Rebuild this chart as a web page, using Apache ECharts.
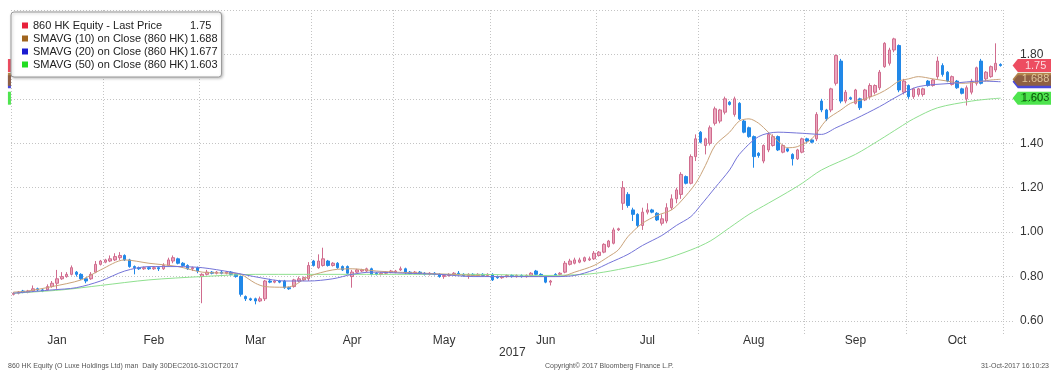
<!DOCTYPE html>
<html><head><meta charset="utf-8">
<script src="https://cdn.jsdelivr.net/npm/echarts@6/dist/echarts.min.js"></script>
<style>html,body{margin:0;padding:0;background:#fff}#c{width:1051px;height:372px}</style>
</head><body><div id="c"></div>
<script>
// ---- data ----
const monthNames = ['Jan','Feb','Mar','Apr','May','Jun','Jul','Aug','Sep','Oct'];
const monthDays = [19,20,23,17,20,22,21,22,21,20];
const yearLabel = '2017';
const seriesNames = ['860 HK Equity - Last Price','SMAVG (10) on Close (860 HK)','SMAVG (20) on Close (860 HK)','SMAVG (50) on Close (860 HK)'];
const lastValues = ['1.75','1.688','1.677','1.603'];
const tagValues = [1.75,1.688,1.677,1.603];
// [open, close, low, high]
const candles = [
// Jan
[.72,.725,.715,.73],[.725,.73,.72,.735],[.735,.73,.725,.74],[.73,.735,.725,.74],[.735,.745,.73,.76],
[.745,.74,.735,.75],[.74,.735,.73,.745],[.74,.755,.735,.765],[.755,.77,.75,.78],[.77,.79,.745,.83],
[.79,.80,.785,.82],[.80,.81,.795,.82],[.81,.84,.805,.85],[.82,.81,.80,.825],[.81,.79,.785,.815],
[.79,.78,.77,.795],[.79,.81,.785,.82],[.82,.855,.815,.87],[.855,.87,.85,.875],
// Feb
[.865,.875,.86,.88],[.87,.88,.865,.895],[.875,.89,.87,.905],[.885,.895,.875,.91],[.895,.875,.87,.90],
[.875,.845,.84,.88],[.845,.84,.81,.85],[.84,.835,.83,.845],[.835,.84,.83,.845],[.84,.835,.83,.845],
[.835,.84,.83,.845],[.84,.835,.825,.845],[.835,.85,.83,.86],[.85,.875,.845,.885],[.87,.885,.86,.895],
[.88,.86,.855,.885],[.86,.85,.845,.865],[.85,.835,.83,.855],[.835,.84,.825,.845],[.84,.825,.815,.845],
// Mar
[.80,.81,.68,.815],[.81,.82,.805,.83],[.82,.815,.81,.825],[.815,.82,.81,.825],[.82,.815,.81,.825],
[.815,.82,.81,.825],[.82,.81,.805,.825],[.81,.80,.795,.815],[.80,.72,.71,.805],[.71,.70,.69,.715],
[.70,.695,.69,.705],[.70,.69,.675,.705],[.69,.70,.685,.71],[.70,.78,.69,.785],[.78,.775,.77,.79],
[.775,.78,.77,.785],[.78,.775,.77,.785],[.78,.75,.745,.785],[.75,.745,.74,.755],[.755,.785,.75,.79],
[.78,.79,.775,.80],[.785,.795,.78,.80],[.79,.85,.78,.865],
// Apr
[.87,.85,.845,.875],[.84,.87,.835,.90],[.85,.88,.845,.93],[.87,.85,.845,.875],[.85,.86,.845,.865],
[.86,.84,.835,.865],[.845,.83,.825,.85],[.845,.815,.81,.85],[.80,.82,.75,.83],[.82,.83,.815,.835],
[.825,.83,.82,.835],[.825,.835,.82,.84],[.835,.81,.805,.84],[.815,.81,.805,.82],[.81,.815,.805,.82],
[.815,.82,.81,.825],[.82,.825,.815,.83],
// May
[.82,.825,.815,.83],[.83,.835,.825,.845],[.835,.82,.81,.84],[.82,.815,.81,.825],[.815,.82,.81,.825],
[.82,.815,.81,.825],[.815,.81,.805,.82],[.81,.815,.805,.82],[.815,.81,.805,.82],[.81,.80,.795,.815],
[.80,.805,.79,.81],[.805,.81,.80,.815],[.81,.815,.805,.82],[.815,.81,.805,.825],[.81,.805,.80,.815],
[.805,.81,.79,.815],[.81,.805,.80,.815],[.805,.81,.80,.815],[.81,.805,.80,.815],[.805,.81,.80,.815],
// Jun
[.81,.785,.78,.815],[.80,.795,.79,.805],[.795,.80,.79,.805],[.80,.805,.795,.81],[.805,.80,.795,.81],
[.80,.805,.795,.81],[.805,.80,.795,.81],[.80,.805,.795,.81],[.805,.815,.80,.82],[.825,.81,.805,.83],
[.81,.805,.80,.815],[.80,.775,.77,.805],[.775,.78,.76,.785],[.81,.805,.80,.815],[.81,.815,.805,.82],
[.82,.86,.815,.87],[.855,.87,.85,.88],[.86,.875,.855,.885],[.865,.875,.86,.885],[.87,.885,.865,.89],
[.875,.88,.87,.89],[.88,.905,.875,.915],
// Jul
[.895,.91,.89,.915],[.91,.945,.905,.95],[.935,.96,.93,.965],[.95,1.01,.945,1.02],[1.01,1.015,1.005,1.02],
[1.13,1.20,1.10,1.23],[1.17,1.12,1.11,1.18],[1.10,1.08,1.05,1.11],[1.08,1.03,1.02,1.085],[1.03,1.09,1.01,1.11],
[1.09,1.10,1.08,1.13],[1.10,1.09,1.085,1.105],[1.085,1.055,1.05,1.09],[1.04,1.06,1.03,1.08],[1.05,1.11,1.04,1.13],
[1.11,1.15,1.10,1.17],[1.15,1.19,1.13,1.20],[1.17,1.26,1.15,1.27],[1.25,1.22,1.215,1.255],[1.22,1.34,1.215,1.35],
[1.34,1.42,1.32,1.44],
// Aug
[1.45,1.405,1.40,1.455],[1.39,1.42,1.35,1.425],[1.40,1.47,1.39,1.48],[1.49,1.555,1.48,1.565],[1.50,1.55,1.49,1.555],
[1.54,1.60,1.53,1.61],[1.585,1.575,1.57,1.59],[1.53,1.60,1.52,1.61],[1.58,1.51,1.505,1.585],[1.50,1.45,1.445,1.505],
[1.47,1.43,1.425,1.475],[1.43,1.34,1.29,1.435],[1.355,1.345,1.335,1.36],[1.32,1.39,1.31,1.395],[1.37,1.44,1.36,1.45],
[1.39,1.43,1.385,1.44],[1.43,1.37,1.365,1.435],[1.36,1.39,1.355,1.395],[1.375,1.365,1.36,1.38],[1.35,1.33,1.30,1.355],
[1.33,1.37,1.325,1.375],[1.36,1.42,1.355,1.425],
// Sep
[1.42,1.41,1.40,1.425],[1.415,1.405,1.40,1.42],[1.42,1.53,1.41,1.54],[1.59,1.55,1.54,1.60],[1.55,1.51,1.50,1.555],
[1.55,1.645,1.54,1.65],[1.67,1.795,1.66,1.80],[1.77,1.59,1.58,1.78],[1.59,1.63,1.58,1.64],[1.605,1.60,1.595,1.61],
[1.58,1.64,1.575,1.645],[1.60,1.56,1.55,1.605],[1.595,1.64,1.59,1.645],[1.61,1.66,1.60,1.67],[1.63,1.66,1.62,1.665],
[1.65,1.72,1.64,1.73],[1.745,1.85,1.74,1.855],[1.76,1.82,1.75,1.83],[1.82,1.87,1.81,1.875],[1.84,1.64,1.63,1.845],
[1.63,1.68,1.62,1.69],
// Oct
[1.66,1.61,1.60,1.665],[1.61,1.645,1.60,1.65],[1.62,1.645,1.61,1.65],[1.62,1.645,1.61,1.65],[1.68,1.66,1.655,1.685],
[1.66,1.685,1.655,1.69],[1.70,1.77,1.69,1.79],[1.75,1.71,1.70,1.76],[1.72,1.68,1.675,1.725],[1.665,1.70,1.66,1.705],
[1.68,1.65,1.645,1.685],[1.645,1.625,1.62,1.65],[1.60,1.65,1.57,1.66],[1.63,1.68,1.62,1.69],[1.67,1.74,1.66,1.745],
[1.77,1.67,1.665,1.78],[1.69,1.72,1.68,1.725],[1.70,1.745,1.695,1.75],[1.73,1.76,1.72,1.85],[1.755,1.75,1.745,1.76]
];
// moving averages: [day index, value]
const sma10 = [[0,.73],[3,.735],[8,.755],[14,.785],[18,.83],[23,.875],[28,.86],[34,.845],[39,.82],[45,.815],[47,.81],
[50,.77],[52,.755],[56,.752],[58,.76],[61,.80],[66,.83],[70,.835],[75,.825],[79,.82],[85,.815],[90,.81],[95,.805],
[100,.80],[105,.80],[110,.80],[113,.80],[116,.82],[120,.85],[123,.89],[125,.92],[127,.98],[130,1.04],[133,1.075],
[136,1.10],[138,1.14],[141,1.22],[143,1.30],[145,1.39],[148,1.45],[150,1.50],[152,1.51],[154,1.49],[156,1.45],
[158,1.41],[160,1.38],[162,1.385],[165,1.42],[168,1.505],[171,1.55],[173,1.58],[176,1.60],[179,1.625],[181,1.65],
[183,1.68],[185,1.69],[187,1.70],[190,1.69],[193,1.68],[196,1.67],[199,1.675],[202,1.685],[204,1.688]];
const sma20 = [[0,.725],[8,.74],[13,.75],[18,.78],[23,.825],[28,.845],[34,.845],[39,.84],[45,.82],[51,.795],[56,.78],
[61,.78],[66,.79],[70,.81],[74,.82],[81,.815],[88,.81],[95,.80],[105,.80],[112,.80],[116,.805],[120,.83],[123,.86],
[127,.90],[130,.94],[134,.985],[137,1.03],[140,1.07],[142,1.12],[145,1.20],[148,1.28],[150,1.35],[154,1.43],
[158,1.45],[163,1.445],[167,1.44],[170,1.47],[174,1.51],[179,1.565],[183,1.615],[187,1.655],[194,1.67],[200,1.68],[204,1.677]];
const sma50 = [[0,.725],[10,.74],[18,.76],[28,.785],[39,.80],[50,.81],[70,.81],[95,.81],[110,.805],[118,.81],[122,.82],
[128,.845],[134,.875],[140,.92],[144,.96],[148,1.02],[152,1.08],[156,1.13],[160,1.18],[163,1.22],[167,1.28],[174,1.35],
[179,1.415],[183,1.47],[186,1.51],[191,1.56],[198,1.59],[202,1.60],[204,1.603]];

// ---- build axis helpers ----
const cats = [];
const startSet = new Set();
const labelMap = {};
let idx = 0;
monthNames.forEach((m, k) => {
  startSet.add(idx);
  labelMap[idx + Math.floor(monthDays[k] / 2)] = m;
  for (let d = 0; d < monthDays[k]; d++) cats.push(m + ' ' + (d + 1));
  idx += monthDays[k];
});
startSet.add(idx);
const lastIdx = cats.length - 1;

const FONT = 'Liberation Sans';
const grid = '#c4c4c4';
const dotted = [1, 2];
const lineColors = ['#caa37a', '#7474d8', '#8fe08f'];
const legendColors = ['#e8203a', '#a0651e', '#1c1cd0', '#22dd22'];
const tagText = ['#ffffff', '#f3dcae', '#ffffff', '#053005'];
const tagPathL = 'path://M0,6.5L6,0L46,0L46,13L6,13Z';

const tagOrder = [3, 2, 1, 0]; // draw green, blue, brown, red (red on top)
const rightTags = tagOrder.map(i => ({
  value: [lastIdx, tagValues[i]],
  itemStyle: { color: legendColors[i] },
  label: i === 2 ? { show: false } : { formatter: lastValues[i], color: tagText[i] }
}));
const leftTags = tagOrder.map(i => ({
  value: [0, tagValues[i]],
  itemStyle: { color: legendColors[i] }
}));

const chart = echarts.init(document.getElementById('c'), null, { renderer: 'canvas' });
chart.setOption({
  animation: false,
  backgroundColor: '#ffffff',
  grid: { left: 11, right: 48, top: 10, bottom: 51 },
  legend: {
    left: 11, top: 12, orient: 'vertical', itemGap: 0, itemWidth: 6, itemHeight: 6,
    padding: [7, 4, 6, 11], backgroundColor: '#ffffff', borderColor: '#9a9a9a', borderWidth: 1, borderRadius: 3,
    shadowBlur: 3, shadowColor: 'rgba(0,0,0,0.25)', shadowOffsetX: 1, shadowOffsetY: 1,
    selectedMode: false,
    data: seriesNames.map((n, i) => ({ name: n, icon: 'rect', itemStyle: { color: legendColors[i], borderWidth: 0 } })),
    formatter: n => '{n|' + n + '}' + lastValues[seriesNames.indexOf(n)],
    textStyle: { fontSize: 11, color: '#222', fontFamily: FONT, lineHeight: 13,
      rich: { n: { width: 157, fontSize: 11, color: '#222', fontFamily: FONT } } }
  },
  xAxis: {
    type: 'category', data: cats, boundaryGap: true,
    axisLine: { show: false },
    axisTick: { show: true, length: 15, interval: i => startSet.has(i), lineStyle: { color: grid, type: dotted } },
    splitLine: { show: true, interval: i => startSet.has(i), lineStyle: { color: grid, type: dotted } },
    axisLabel: { interval: i => labelMap[i] !== undefined, formatter: (v, i) => labelMap[i] || '',
      margin: 14, color: '#333', fontSize: 12, fontFamily: FONT }
  },
  yAxis: {
    type: 'value', position: 'right', min: 0.6, max: 2.0, interval: 0.2, scale: true,
    axisLine: { show: false },
    axisTick: { show: true, length: 12, lineStyle: { color: grid, type: dotted } },
    splitLine: { show: true, lineStyle: { color: grid, type: dotted } },
    axisLabel: { showMaxLabel: false, formatter: v => v.toFixed(2), color: '#333', fontSize: 12, margin: 17, fontFamily: FONT }
  },
  series: [
    { name: seriesNames[0], type: 'candlestick', data: candles, barWidth: 3, z: 2,
      itemStyle: { color: '#eba6bd', color0: '#2188e8', borderColor: '#d06c8e', borderColor0: '#2188e8', borderWidth: 1 } },
    { name: seriesNames[1], type: 'line', data: sma10, symbol: 'none', smooth: 0.3, z: 4,
      lineStyle: { color: lineColors[0], width: 1 }, itemStyle: { color: lineColors[0] } },
    { name: seriesNames[2], type: 'line', data: sma20, symbol: 'none', smooth: 0.3, z: 4,
      lineStyle: { color: lineColors[1], width: 1 }, itemStyle: { color: lineColors[1] } },
    { name: seriesNames[3], type: 'line', data: sma50, symbol: 'none', smooth: 0.3, z: 3,
      lineStyle: { color: lineColors[2], width: 1 }, itemStyle: { color: lineColors[2] } },
    { name: 'rightTags', type: 'scatter', data: rightTags, symbol: tagPathL, symbolSize: [40, 13],
      symbolKeepAspect: false, symbolOffset: [32, 0], clip: false, silent: true, z: 10,
      label: { show: true, position: 'inside', offset: [3, 0], fontSize: 11, fontFamily: FONT } },
    { name: 'leftTags', type: 'scatter', data: leftTags, symbol: 'rect', symbolSize: [3, 13],
      symbolOffset: [-4, 0], clip: false, silent: true, z: 1 }
  ],
  graphic: [
    { type: 'text', left: 499, top: 347, style: { text: yearLabel, fontSize: 12, fill: '#333', fontFamily: FONT } },
    { type: 'text', left: 8, top: 363, style: { text: '860 HK Equity (O Luxe Holdings Ltd) man  Daily 30DEC2016-31OCT2017', fontSize: 7, fill: '#555', fontFamily: FONT } },
    { type: 'text', left: 545, top: 363, style: { text: 'Copyright\u00A9 2017 Bloomberg Finance L.P.', fontSize: 7, fill: '#555', fontFamily: FONT } },
    { type: 'text', right: 2, top: 363, style: { text: '31-Oct-2017 16:10:23', fontSize: 7, fill: '#555', fontFamily: FONT } }
  ]
});
</script>
</body></html>
